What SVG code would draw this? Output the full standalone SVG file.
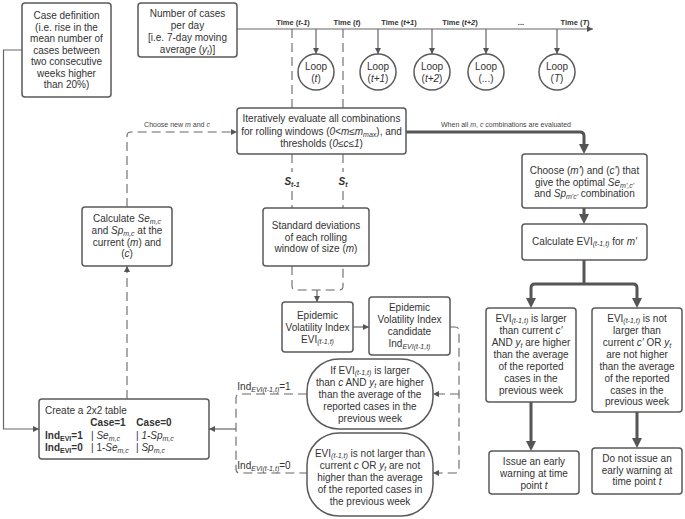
<svg xmlns="http://www.w3.org/2000/svg" width="685" height="519" viewBox="0 0 685 519">
<style>
.box{fill:#fff;stroke:#5a5a5a;stroke-width:1.5}
.t{font-family:"Liberation Sans",Arial,sans-serif;font-size:10px;fill:#333;text-anchor:middle}
.l{text-anchor:start}
.b{font-weight:bold}
.i{font-style:italic}
.s{font-size:7px}
.tl{font-family:"Liberation Sans",Arial,sans-serif;font-size:7.5px;font-weight:bold;fill:#333;text-anchor:middle}
.sm{font-family:"Liberation Sans",Arial,sans-serif;font-size:7px;fill:#444;text-anchor:middle}
.thin{fill:none;stroke:#666;stroke-width:1.2}
.dash{fill:none;stroke:#666;stroke-width:1.1;stroke-dasharray:9,5}
.thick{fill:none;stroke:#555;stroke-width:3}
</style>
<defs>
<marker id="a" viewBox="0 0 10 10" refX="10" refY="5" markerWidth="7" markerHeight="6" orient="auto" markerUnits="userSpaceOnUse"><path d="M0,0 L10,5 L0,10 z" fill="#555"/></marker>
<marker id="A" viewBox="0 0 10 10" refX="3" refY="5" markerWidth="10" markerHeight="10" orient="auto" markerUnits="userSpaceOnUse"><path d="M0,0 L10,5 L0,10 z" fill="#555"/></marker>
</defs>

<g id="connectors">
<path class="thin" d="M22,50 H3.5 V429 H39" marker-end="url(#a)"/>
<path class="thin" d="M237,29 H593" marker-end="url(#a)"/>
<path class="thin" d="M316,29 V54" marker-end="url(#a)"/>
<path class="thin" d="M378,29 V54" marker-end="url(#a)"/>
<path class="thin" d="M432,29 V54" marker-end="url(#a)"/>
<path class="thin" d="M486,29 V54" marker-end="url(#a)"/>
<path class="thin" d="M557,29 V54" marker-end="url(#a)"/>
<path class="dash" d="M292,29 V108 M343,29 V108"/>
<path class="dash" d="M292,154 V172 M343,154 V172 M292,191 V208 M343,191 V208"/>
<path class="dash" d="M292,266 V286 Q292,290 296,290 H339 Q343,290 343,286 V266"/>
<path class="thin" d="M317,290 V302" marker-end="url(#a)"/>
<path class="dash" d="M127,207 V136 Q127,132 131,132 H237" marker-end="url(#a)"/>
<path class="dash" d="M127,399 V266" marker-end="url(#a)"/>
<path class="thick" d="M406,132 H580 Q584,132 584,136 V147" marker-end="url(#A)"/>
<path class="thick" d="M584,208 V217" marker-end="url(#A)"/>
<path class="thick" d="M584,260 V284"/>
<path class="thick" d="M584,284 H535 Q531,284 531,288 V301" marker-end="url(#A)"/>
<path class="thick" d="M584,284 H633 Q637,284 637,288 V301" marker-end="url(#A)"/>
<path class="thick" d="M531,402 V444" marker-end="url(#A)"/>
<path class="thick" d="M637,412 V441" marker-end="url(#A)"/>
<path class="thin" d="M353,327 H369" marker-end="url(#a)"/>
<path class="dash" d="M450,327 H455 Q459,327 459,331 V469 Q459,473 455,473 H433" marker-end="url(#a)"/>
<path class="dash" d="M459,394 H433" marker-end="url(#a)"/>
<path class="dash" d="M307,394 H240 Q236,394 236,398 V469 Q236,473 240,473 H307"/>
<path class="thin" d="M236,429 H209" marker-end="url(#a)"/>
<text class="sm" x="177" y="127">Choose new <tspan class="i">m</tspan> and <tspan class="i">c</tspan></text>
<text class="sm" x="506" y="127">When all <tspan class="i">m</tspan>, <tspan class="i">c</tspan> combinations are evaluated</text>
<text class="t b i" x="292" y="185">S<tspan class="s" dy="2">t-1</tspan></text>
<text class="t b i" x="343" y="185">S<tspan class="s" dy="2">t</tspan></text>
<text class="t" x="264" y="390">Ind<tspan class="s i" dy="2">EVI(t-1,t)</tspan><tspan dy="-2">=1</tspan></text>
<text class="t" x="264" y="469">Ind<tspan class="s i" dy="2">EVI(t-1,t)</tspan><tspan dy="-2">=0</tspan></text>
</g>

<g id="timeline-labels">
<text class="tl" x="293" y="25">Time (<tspan class="i">t-1</tspan>)</text>
<text class="tl" x="347" y="25">Time (<tspan class="i">t</tspan>)</text>
<text class="tl" x="399" y="25">Time (<tspan class="i">t+1</tspan>)</text>
<text class="tl" x="460" y="25">Time (<tspan class="i">t+2</tspan>)</text>
<text class="tl" x="521" y="25">...</text>
<text class="tl" x="575" y="25">Time (<tspan class="i">T</tspan>)</text>
</g>

<g id="case-definition">
<rect class="box" x="22" y="3" width="89" height="94" rx="3"/>
<text class="t" x="66.5" y="19">Case definition</text>
<text class="t" x="66.5" y="30.5">(i.e. rise in the</text>
<text class="t" x="66.5" y="42">mean number of</text>
<text class="t" x="66.5" y="53.5">cases between</text>
<text class="t" x="66.5" y="65">two consecutive</text>
<text class="t" x="66.5" y="76.5">weeks higher</text>
<text class="t" x="66.5" y="88">than 20%)</text>
</g>

<g id="number-of-cases">
<rect class="box" x="138" y="3" width="99" height="54" rx="3"/>
<text class="t" x="187.5" y="17">Number of cases</text>
<text class="t" x="187.5" y="29">per day</text>
<text class="t" x="187.5" y="41">[i.e. 7-day moving</text>
<text class="t" x="187.5" y="53">average (<tspan class="i">y</tspan><tspan class="s i" dy="2">t</tspan><tspan dy="-2">)]</tspan></text>
</g>

<g id="loop-t"><circle class="box" cx="316" cy="72" r="18"/><text class="t" x="316" y="70">Loop</text><text class="t" x="316" y="82">(<tspan class="i">t</tspan>)</text></g>
<g id="loop-t1"><circle class="box" cx="378" cy="72" r="18"/><text class="t" x="378" y="70">Loop</text><text class="t" x="378" y="82">(<tspan class="i">t+1</tspan>)</text></g>
<g id="loop-t2"><circle class="box" cx="432" cy="72" r="18"/><text class="t" x="432" y="70">Loop</text><text class="t" x="432" y="82">(<tspan class="i">t+2</tspan>)</text></g>
<g id="loop-dots"><circle class="box" cx="486" cy="72" r="18"/><text class="t" x="486" y="70">Loop</text><text class="t" x="486" y="82">(...)</text></g>
<g id="loop-T"><circle class="box" cx="557" cy="72" r="18"/><text class="t" x="557" y="70">Loop</text><text class="t" x="557" y="82">(<tspan class="i">T</tspan>)</text></g>

<g id="iterate">
<rect class="box" x="237" y="108" width="169" height="46" rx="3"/>
<text class="t" x="321.5" y="122">Iteratively evaluate all combinations</text>
<text class="t" x="321.5" y="134.5">for rolling windows (<tspan class="i">0&lt;m≤m</tspan><tspan class="s i" dy="2">max</tspan><tspan dy="-2">), and</tspan></text>
<text class="t" x="321.5" y="147">thresholds (<tspan class="i">0≤c≤1</tspan>)</text>
</g>

<g id="calc-se-sp">
<rect class="box" x="82" y="207" width="90" height="59" rx="3"/>
<text class="t" x="127" y="221.5">Calculate <tspan class="i">Se</tspan><tspan class="s i" dy="2">m,c</tspan></text>
<text class="t" x="127" y="233.5">and <tspan class="i">Sp</tspan><tspan class="s i" dy="2">m,c</tspan><tspan dy="-2">  at the</tspan></text>
<text class="t" x="127" y="245.5">current (<tspan class="i">m</tspan>) and</text>
<text class="t" x="127" y="257">(<tspan class="i">c</tspan>)</text>
</g>

<g id="std-dev">
<rect class="box" x="263" y="208" width="106" height="58" rx="3"/>
<text class="t" x="316" y="228.5">Standard deviations</text>
<text class="t" x="316" y="240.5">of each rolling</text>
<text class="t" x="316" y="252">window of size (<tspan class="i">m</tspan>)</text>
</g>

<g id="choose">
<rect class="box" x="522" y="154" width="125" height="54" rx="3"/>
<text class="t" x="584.5" y="173.5">Choose (<tspan class="i">m'</tspan>) and (<tspan class="i">c'</tspan>) that</text>
<text class="t" x="584.5" y="185.5">give the optimal <tspan class="i">Se</tspan><tspan class="s i" dy="2">m',c'</tspan></text>
<text class="t" x="584.5" y="197">and <tspan class="i">Sp</tspan><tspan class="s i" dy="2">m'c'</tspan><tspan dy="-2"> combination</tspan></text>
</g>

<g id="calc-evi">
<rect class="box" x="522" y="224" width="125" height="36" rx="3"/>
<text class="t" x="584.5" y="245">Calculate EVI<tspan class="s i" dy="1">(t-1,t)</tspan><tspan dy="-1"> for </tspan><tspan class="i">m'</tspan></text>
</g>

<g id="evi">
<rect class="box" x="282" y="302" width="71" height="50" rx="3"/>
<text class="t" x="317.5" y="318.5">Epidemic</text>
<text class="t" x="317.5" y="330.5">Volatility Index</text>
<text class="t" x="317.5" y="342.5">EVI<tspan class="s i" dy="1">(t-1,t)</tspan></text>
</g>

<g id="candidate">
<rect class="box" x="369" y="297" width="81" height="58" rx="3"/>
<text class="t" x="409.5" y="310.5">Epidemic</text>
<text class="t" x="409.5" y="322.5">Volatility Index</text>
<text class="t" x="409.5" y="334.5">candidate</text>
<text class="t" x="409.5" y="346.5">Ind<tspan class="s i" dy="2">EVI(t-1,t)</tspan></text>
</g>

<g id="cond-yes">
<rect class="box" x="307" y="359" width="126" height="70" rx="32"/>
<text class="t" x="370" y="373.5">If EVI<tspan class="s i" dy="1">(t-1,t)</tspan><tspan dy="-1"> is larger</tspan></text>
<text class="t" x="370" y="385.5">than <tspan class="i">c</tspan> AND <tspan class="i">y</tspan><tspan class="s i" dy="2">t</tspan><tspan dy="-2"> are higher</tspan></text>
<text class="t" x="370" y="397.5">than the average of the</text>
<text class="t" x="370" y="409.5">reported cases in the</text>
<text class="t" x="370" y="421.5">previous week</text>
</g>

<g id="cond-no">
<rect class="box" x="307" y="433" width="126" height="83" rx="32"/>
<text class="t" x="370" y="456.5">EVI<tspan class="s i" dy="1">(t-1,t)</tspan><tspan dy="-1"> is not larger than</tspan></text>
<text class="t" x="370" y="468.5">current <tspan class="i">c</tspan> OR <tspan class="i">y</tspan><tspan class="s i" dy="2">t</tspan><tspan dy="-2"> are not</tspan></text>
<text class="t" x="370" y="480.5">higher than the average</text>
<text class="t" x="370" y="492.5">of the reported cases in</text>
<text class="t" x="370" y="504.5">the previous week</text>
</g>

<g id="table">
<rect class="box" x="39" y="399" width="170" height="60" rx="3"/>
<text class="t l" x="45" y="413.5">Create a 2x2 table</text>
<text class="t b" x="108" y="425.5">Case=1</text>
<text class="t b" x="154" y="425.5">Case=0</text>
<text class="t l b" x="45" y="438.5">Ind<tspan class="s" dy="2">EVI</tspan><tspan dy="-2">=1</tspan></text>
<text class="t l" x="91" y="438.5">| <tspan class="i">Se</tspan><tspan class="s i" dy="2">m,c</tspan></text>
<text class="t l" x="136" y="438.5">| <tspan class="i">1-Sp</tspan><tspan class="s i" dy="2">m,c</tspan></text>
<text class="t l b" x="45" y="450.5">Ind<tspan class="s" dy="2">EVI</tspan><tspan dy="-2">=0</tspan></text>
<text class="t l" x="91" y="450.5">| 1-<tspan class="i">Se</tspan><tspan class="s i" dy="2">m,c</tspan></text>
<text class="t l" x="136" y="450.5">| <tspan class="i">Sp</tspan><tspan class="s i" dy="2">m,c</tspan></text>
</g>

<g id="res-yes">
<rect class="box" x="486" y="308" width="90" height="94" rx="3"/>
<text class="t" x="531" y="321.5">EVI<tspan class="s i" dy="1">(t-1,t)</tspan><tspan dy="-1"> is larger</tspan></text>
<text class="t" x="531" y="333.5">than current <tspan class="i">c'</tspan></text>
<text class="t" x="531" y="345.5">AND <tspan class="i">y</tspan><tspan class="s i" dy="2">t</tspan><tspan dy="-2"> are higher</tspan></text>
<text class="t" x="531" y="357.5">than the average</text>
<text class="t" x="531" y="369.5">of the reported</text>
<text class="t" x="531" y="381.5">cases in the</text>
<text class="t" x="531" y="393.5">previous week</text>
</g>

<g id="res-no">
<rect class="box" x="592" y="308" width="90" height="104" rx="3"/>
<text class="t" x="637" y="321.5">EVI<tspan class="s i" dy="1">(t-1,t)</tspan><tspan dy="-1"> is not</tspan></text>
<text class="t" x="637" y="333.5">larger than</text>
<text class="t" x="637" y="345.5">current <tspan class="i">c'</tspan> OR <tspan class="i">y</tspan><tspan class="s i" dy="2">t</tspan></text>
<text class="t" x="637" y="357.5">are not higher</text>
<text class="t" x="637" y="369.5">than the average</text>
<text class="t" x="637" y="381.5">of the reported</text>
<text class="t" x="637" y="393.5">cases in the</text>
<text class="t" x="637" y="405">previous week</text>
</g>

<g id="warn-yes">
<rect class="box" x="489" y="451" width="90" height="43" rx="3"/>
<text class="t" x="534" y="465">Issue an early</text>
<text class="t" x="534" y="477">warning at time</text>
<text class="t" x="534" y="488.5">point <tspan class="i">t</tspan></text>
</g>

<g id="warn-no">
<rect class="box" x="592" y="448" width="90" height="46" rx="3"/>
<text class="t" x="637" y="461.5">Do not issue an</text>
<text class="t" x="637" y="473.5">early warning at</text>
<text class="t" x="637" y="485">time point <tspan class="i">t</tspan></text>
</g>
</svg>
